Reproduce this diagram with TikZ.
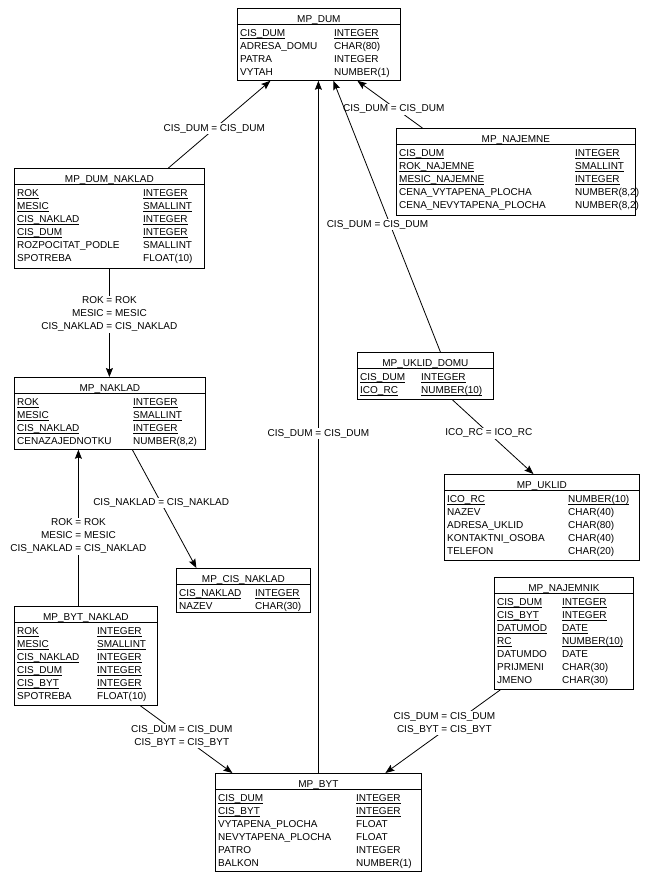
\documentclass[tikz,border=0pt]{standalone}
\usepackage{fontspec}
\setmainfont{Liberation Sans}
\usetikzlibrary{arrows.meta, positioning, calc}

% key column: underlined text
\newcommand{\pk}[1]{\leavevmode\setbox0\hbox{#1}\rlap{\rule[-1.9pt]{\wd0}{0.6pt}}\box0}

% table: name, left, top, width, height, first column width, title, rows
\newcommand{\dbtable}[8]{%
  \node[tbl, minimum width=#4pt, minimum height=#5pt] (#1) at (#2,#3) {};
  \node[tbltitle] (#1-title) at ([yshift=-14pt]#1.north) {#7};
  \draw[tblline] ([yshift=-16pt]#1.north west) -- ([yshift=-16pt]#1.north east);
  \node[tblbody] (#1-body) at ([xshift=3pt,yshift=-19pt]#1.north west)
    {\begin{tabular}{@{}p{#6pt}@{}l@{}}#8\end{tabular}};
}

\begin{document}
\begin{tikzpicture}[
    x=1pt, y=-1pt,
    font=\fontsize{10}{13}\selectfont,
    tbl/.style={draw, line width=0.8pt, rectangle, anchor=north west, inner sep=0pt},
    tbltitle/.style={anchor=base, inner sep=0pt},
    tblline/.style={line width=0.8pt},
    tblbody/.style={anchor=north west, inner sep=0pt},
    rel/.style={line width=0.8pt, -{Stealth[length=9pt, width=7pt, inset=1.5pt]}},
    lbl/.style={fill=white, inner sep=1pt, align=center}
]
\useasboundingbox (0,0) rectangle (658,884);

\dbtable{dum}{237}{8}{163}{72}{94}{MP\_DUM}{%
  \pk{CIS\_DUM} & \pk{INTEGER}\\
  ADRESA\_DOMU & CHAR(80)\\
  PATRA & INTEGER\\
  VYTAH & NUMBER(1)}

\dbtable{najemne}{396}{128}{239}{87}{176}{MP\_NAJEMNE}{%
  \pk{CIS\_DUM} & \pk{INTEGER}\\
  \pk{ROK\_NAJEMNE} & \pk{SMALLINT}\\
  \pk{MESIC\_NAJEMNE} & \pk{INTEGER}\\
  CENA\_VYTAPENA\_PLOCHA & NUMBER(8,2)\\
  CENA\_NEVYTAPENA\_PLOCHA & NUMBER(8,2)}

\dbtable{dumnaklad}{14}{168}{190}{100}{126}{MP\_DUM\_NAKLAD}{%
  \pk{ROK} & \pk{INTEGER}\\
  \pk{MESIC} & \pk{SMALLINT}\\
  \pk{CIS\_NAKLAD} & \pk{INTEGER}\\
  \pk{CIS\_DUM} & \pk{INTEGER}\\
  ROZPOCITAT\_PODLE & SMALLINT\\
  SPOTREBA & FLOAT(10)}

\dbtable{naklad}{14}{377}{191}{72}{116}{MP\_NAKLAD}{%
  \pk{ROK} & \pk{INTEGER}\\
  \pk{MESIC} & \pk{SMALLINT}\\
  \pk{CIS\_NAKLAD} & \pk{INTEGER}\\
  CENAZAJEDNOTKU & NUMBER(8,2)}

\dbtable{uklidomu}{357}{352}{136}{47}{61}{MP\_UKLID\_DOMU}{%
  \pk{CIS\_DUM} & \pk{INTEGER}\\
  \pk{ICO\_RC} & \pk{NUMBER(10)}}

\dbtable{uklid}{444}{474}{195}{86}{121}{MP\_UKLID}{%
  \pk{ICO\_RC} & \pk{NUMBER(10)}\\
  NAZEV & CHAR(40)\\
  ADRESA\_UKLID & CHAR(80)\\
  KONTAKTNI\_OSOBA & CHAR(40)\\
  TELEFON & CHAR(20)}

\dbtable{cisnaklad}{176}{568}{134}{44}{76}{MP\_CIS\_NAKLAD}{%
  \pk{CIS\_NAKLAD} & \pk{INTEGER}\\
  NAZEV & CHAR(30)}

\dbtable{najemnik}{494}{577}{139}{112}{65}{MP\_NAJEMNIK}{%
  \pk{CIS\_DUM} & \pk{INTEGER}\\
  \pk{CIS\_BYT} & \pk{INTEGER}\\
  \pk{DATUMOD} & \pk{DATE}\\
  \pk{RC} & \pk{NUMBER(10)}\\
  DATUMDO & DATE\\
  PRIJMENI & CHAR(30)\\
  JMENO & CHAR(30)}

\dbtable{bytnaklad}{14}{606}{143}{99}{80}{MP\_BYT\_NAKLAD}{%
  \pk{ROK} & \pk{INTEGER}\\
  \pk{MESIC} & \pk{SMALLINT}\\
  \pk{CIS\_NAKLAD} & \pk{INTEGER}\\
  \pk{CIS\_DUM} & \pk{INTEGER}\\
  \pk{CIS\_BYT} & \pk{INTEGER}\\
  SPOTREBA & FLOAT(10)}

\dbtable{byt}{215}{773}{206}{98}{138}{MP\_BYT}{%
  \pk{CIS\_DUM} & \pk{INTEGER}\\
  \pk{CIS\_BYT} & \pk{INTEGER}\\
  VYTAPENA\_PLOCHA & FLOAT\\
  NEVYTAPENA\_PLOCHA & FLOAT\\
  PATRO & INTEGER\\
  BALKON & NUMBER(1)}

% references to MP_DUM
\draw[rel] ([xshift=59pt]dumnaklad.north) -- node[lbl, pos=0.45] {CIS\_DUM = CIS\_DUM} ([xshift=-48.5pt]dum.south);
\draw[rel] ([xshift=-93.5pt]najemne.north) -- node[lbl, pos=0.44, yshift=-2pt] {CIS\_DUM = CIS\_DUM} ([xshift=38.5pt]dum.south);
\draw[rel] ([xshift=15pt]uklidomu.north) -- node[lbl, pos=0.476, xshift=-12pt, yshift=-2pt] {CIS\_DUM = CIS\_DUM} ([xshift=14.5pt]dum.south);
\draw[rel] (byt.north) -- node[lbl, pos=0.49] {CIS\_DUM = CIS\_DUM} (byt.north |- dum.south);

% references to MP_NAKLAD and MP_CIS_NAKLAD
\draw[rel] (dumnaklad.south) -- node[lbl, pos=0.42] {ROK = ROK\\MESIC = MESIC\\CIS\_NAKLAD = CIS\_NAKLAD} (dumnaklad.south |- naklad.north);
\draw[rel] ([xshift=-7.5pt]bytnaklad.north) -- node[lbl, pos=0.46, yshift=-2pt] {ROK = ROK\\MESIC = MESIC\\CIS\_NAKLAD = CIS\_NAKLAD} ([xshift=-7.5pt]bytnaklad.north |- naklad.south);
\draw[rel] ([xshift=22.5pt]naklad.south) -- node[lbl, pos=0.45] {CIS\_NAKLAD = CIS\_NAKLAD} ([xshift=-47pt]cisnaklad.north);

% references to MP_UKLID and MP_BYT
\draw[rel] ([xshift=27pt]uklidomu.south) -- node[lbl, pos=0.45] {ICO\_RC = ICO\_RC} ([xshift=-8.5pt]uklid.north);
\draw[rel] ([xshift=54.5pt]bytnaklad.south) -- node[lbl, pos=0.45] {CIS\_DUM = CIS\_DUM\\CIS\_BYT = CIS\_BYT} ([xshift=-86pt]byt.north);
\draw[rel] ([xshift=-63.5pt]najemnik.south) -- node[lbl, pos=0.4, xshift=-10pt] {CIS\_DUM = CIS\_DUM\\CIS\_BYT = CIS\_BYT} ([xshift=67pt]byt.north);

\end{tikzpicture}
\end{document}
